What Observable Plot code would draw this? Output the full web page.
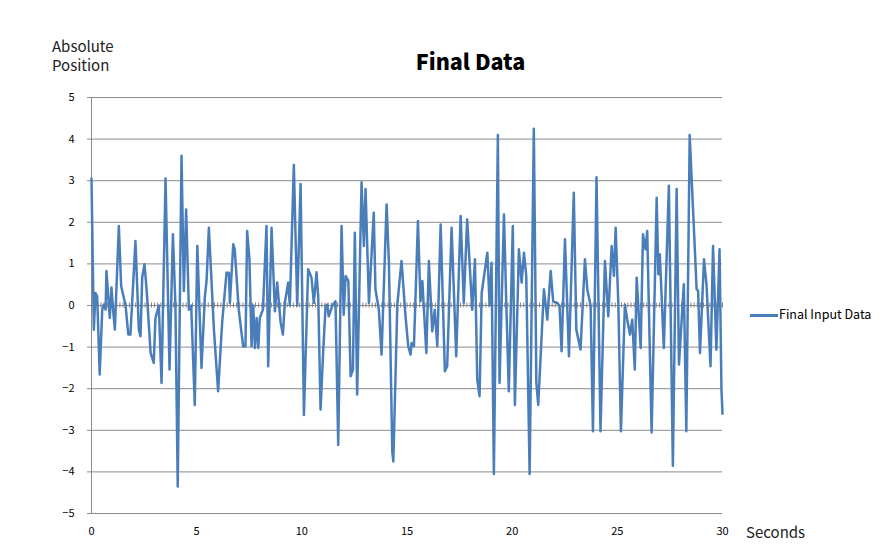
<!DOCTYPE html>
<html><head><meta charset="utf-8">
<script src="https://cdn.jsdelivr.net/npm/d3@7"></script>
<script src="https://cdn.jsdelivr.net/npm/@observablehq/plot@0.6"></script>
<style>
body{margin:0;background:#fff;font-family:"Noto Sans CJK KR","Open Sans",sans-serif;}
#wrap{position:relative;width:883px;height:555px;}
.t{position:absolute;white-space:nowrap;color:#000;line-height:1;}
</style></head><body><div id="wrap"></div>
<script>
const seconds = [
0.00,0.11,0.19,0.27,0.39,0.51,0.58,0.67,0.71,0.87,0.95,1.01,1.11,1.30,1.41,1.62,1.75,1.85,2.09,2.25,
2.33,2.41,2.52,2.62,2.81,2.96,3.04,3.20,3.33,3.52,3.71,3.87,3.99,4.10,4.28,4.39,4.50,4.63,4.74,4.91,
5.03,5.23,5.39,5.47,5.58,5.82,6.02,6.21,6.42,6.53,6.58,6.74,6.81,7.00,7.21,7.32,7.40,7.51,7.61,7.69,
7.77,7.85,7.93,8.00,8.15,8.32,8.40,8.56,8.72,8.83,8.99,9.10,9.19,9.35,9.43,9.62,9.78,9.94,10.10,10.30,
10.46,10.57,10.70,10.78,10.89,11.02,11.13,11.21,11.28,11.45,11.60,11.73,11.89,11.99,12.08,12.21,12.32,12.43,12.52,12.63,
12.84,12.95,13.03,13.19,13.42,13.50,13.66,13.79,14.03,14.14,14.30,14.35,14.54,14.74,14.93,15.06,15.17,15.22,15.33,15.52,
15.64,15.73,15.92,16.04,16.20,16.32,16.44,16.60,16.80,16.91,17.12,17.34,17.55,17.70,17.86,18.10,18.23,18.34,18.45,18.55,
18.82,18.93,19.02,19.13,19.32,19.40,19.61,19.72,19.84,20.03,20.13,20.32,20.45,20.56,20.67,20.83,21.03,21.15,21.24,21.51,
21.67,21.83,21.95,22.14,22.25,22.35,22.51,22.70,22.93,23.05,23.25,23.46,23.57,23.73,23.84,24.01,24.20,24.41,24.57,24.73,
24.84,24.92,25.05,25.17,25.36,25.47,25.60,25.71,25.83,25.92,26.11,26.22,26.34,26.42,26.63,26.87,26.95,27.02,27.21,27.45,
27.64,27.82,27.93,28.16,28.28,28.44,28.77,28.84,28.93,29.12,29.24,29.43,29.55,29.71,29.86,29.95,30.00
];
const position = [
3.05,-0.58,0.30,0.22,-1.66,-0.10,0.02,-0.10,0.83,-0.30,0.43,0.00,-0.58,1.91,0.47,0.00,-0.70,-0.70,1.55,-0.58,
-0.74,0.67,0.99,0.39,-1.14,-1.38,-0.30,0.00,-1.86,3.05,-1.54,1.71,0.00,-4.35,3.60,0.35,2.31,-0.10,0.00,-2.39,
1.43,-1.50,0.22,0.59,1.87,-0.58,-2.06,-0.42,0.79,0.79,0.06,1.47,1.35,-0.10,-0.98,-0.98,1.79,1.10,-0.98,0.00,
-1.02,-0.30,-1.02,-0.30,-0.10,1.91,-1.46,1.87,-0.14,0.55,-0.40,-0.70,0.06,0.55,0.00,3.38,0.00,2.92,-2.63,0.87,
0.67,0.06,0.80,0.20,-2.50,-1.06,0.00,0.02,-0.26,0.00,0.10,-3.35,1.91,-0.22,0.71,0.59,-1.70,-1.54,1.75,-2.14,
2.96,1.43,2.80,0.06,2.23,0.39,-0.10,-1.18,2.43,1.03,-3.50,-3.75,0.02,1.07,-0.26,-0.98,-1.18,-0.90,-0.98,2.03,
0.10,0.59,-1.14,1.07,-0.62,-0.10,-0.98,1.95,-1.58,-1.46,1.87,-1.22,2.15,0.06,2.07,-0.10,1.11,-1.78,-2.18,0.30,
1.27,0.00,1.03,-4.05,4.10,-1.86,2.19,0.06,-2.06,1.91,-2.39,1.35,0.55,1.27,0.71,-4.05,4.25,-1.86,-2.39,0.39,
-0.34,0.83,0.10,0.06,0.00,-1.10,1.59,-1.22,2.71,-0.58,-1.06,1.11,0.39,0.00,-3.02,3.08,-3.02,1.07,-0.26,1.43,
0.71,1.87,0.00,-3.02,0.02,-0.34,-0.70,-0.34,-1.54,0.67,-1.02,1.71,1.35,1.79,-3.05,2.59,0.75,1.23,-1.02,2.88,
-3.85,2.80,-1.42,0.51,-3.02,4.10,0.39,0.35,-1.14,1.11,0.50,-1.46,1.43,-1.06,1.35,-2.02,-2.60
];
const yTicks = [-5,-4,-3,-2,-1,0,1,2,3,4,5];
const xTicks = [0,5,10,15,20,25,30];
const minorTicks = d3.range(0, 30.001, 0.15);

const data = seconds.map((t, i) => ({t, v: position[i]}));
const font = '"Noto Sans CJK KR","Open Sans",sans-serif';
const grid = "#8c8c8c";

const chart = Plot.plot({
  width: 883, height: 555,
  marginLeft: 91, marginRight: 161, marginTop: 97, marginBottom: 42,
  x: {domain: [0, 30]},
  y: {domain: [-5, 5]},
  style: {fontFamily: font, fontSize: "11px", color: "#000", background: "#fff"},
  marks: [
    Plot.ruleY(yTicks, {stroke: grid, strokeWidth: 1}),
    Plot.ruleX([0], {y1: -5, y2: 5, stroke: grid}),
    Plot.ruleX(minorTicks, {y1: -0.06, y2: 0.06, stroke: "#8a7f78", strokeWidth: 1}),
    Plot.axisY({ticks: yTicks, tickSize: 4, tickPadding: 13, label: null, stroke: grid, fill: "#000"}),
    Plot.axisX({ticks: xTicks, tickSize: 0, tickPadding: 14, label: null, fill: "#000"}),
    Plot.line(data, {x: "t", y: "v", stroke: "#4a7ebb", strokeWidth: 2.5, strokeLinejoin: "round"})
  ]
});
const wrap = document.getElementById("wrap");
wrap.appendChild(chart);

function addText(txt, css) {
  const d = document.createElement("div");
  d.className = "t";
  d.innerHTML = txt;
  Object.assign(d.style, css);
  wrap.appendChild(d);
}
addText("Final Data", {left: "0", width: "941px", textAlign: "center", top: "50px", fontSize: "21.5px", fontWeight: "900"});
addText("Absolute<br>Position", {left: "52px", top: "36px", fontSize: "15px", lineHeight: "19px", color: "#222"});
addText("Seconds", {left: "746px", top: "524px", fontSize: "15px", color: "#222"});
// legend
const sw = document.createElement("div");
Object.assign(sw.style, {position: "absolute", left: "750px", top: "314px", width: "28px", height: "3px", background: "#4a7ebb"});
wrap.appendChild(sw);
addText("Final Input Data", {left: "779px", top: "308px", fontSize: "12.5px"});
</script></body></html>
